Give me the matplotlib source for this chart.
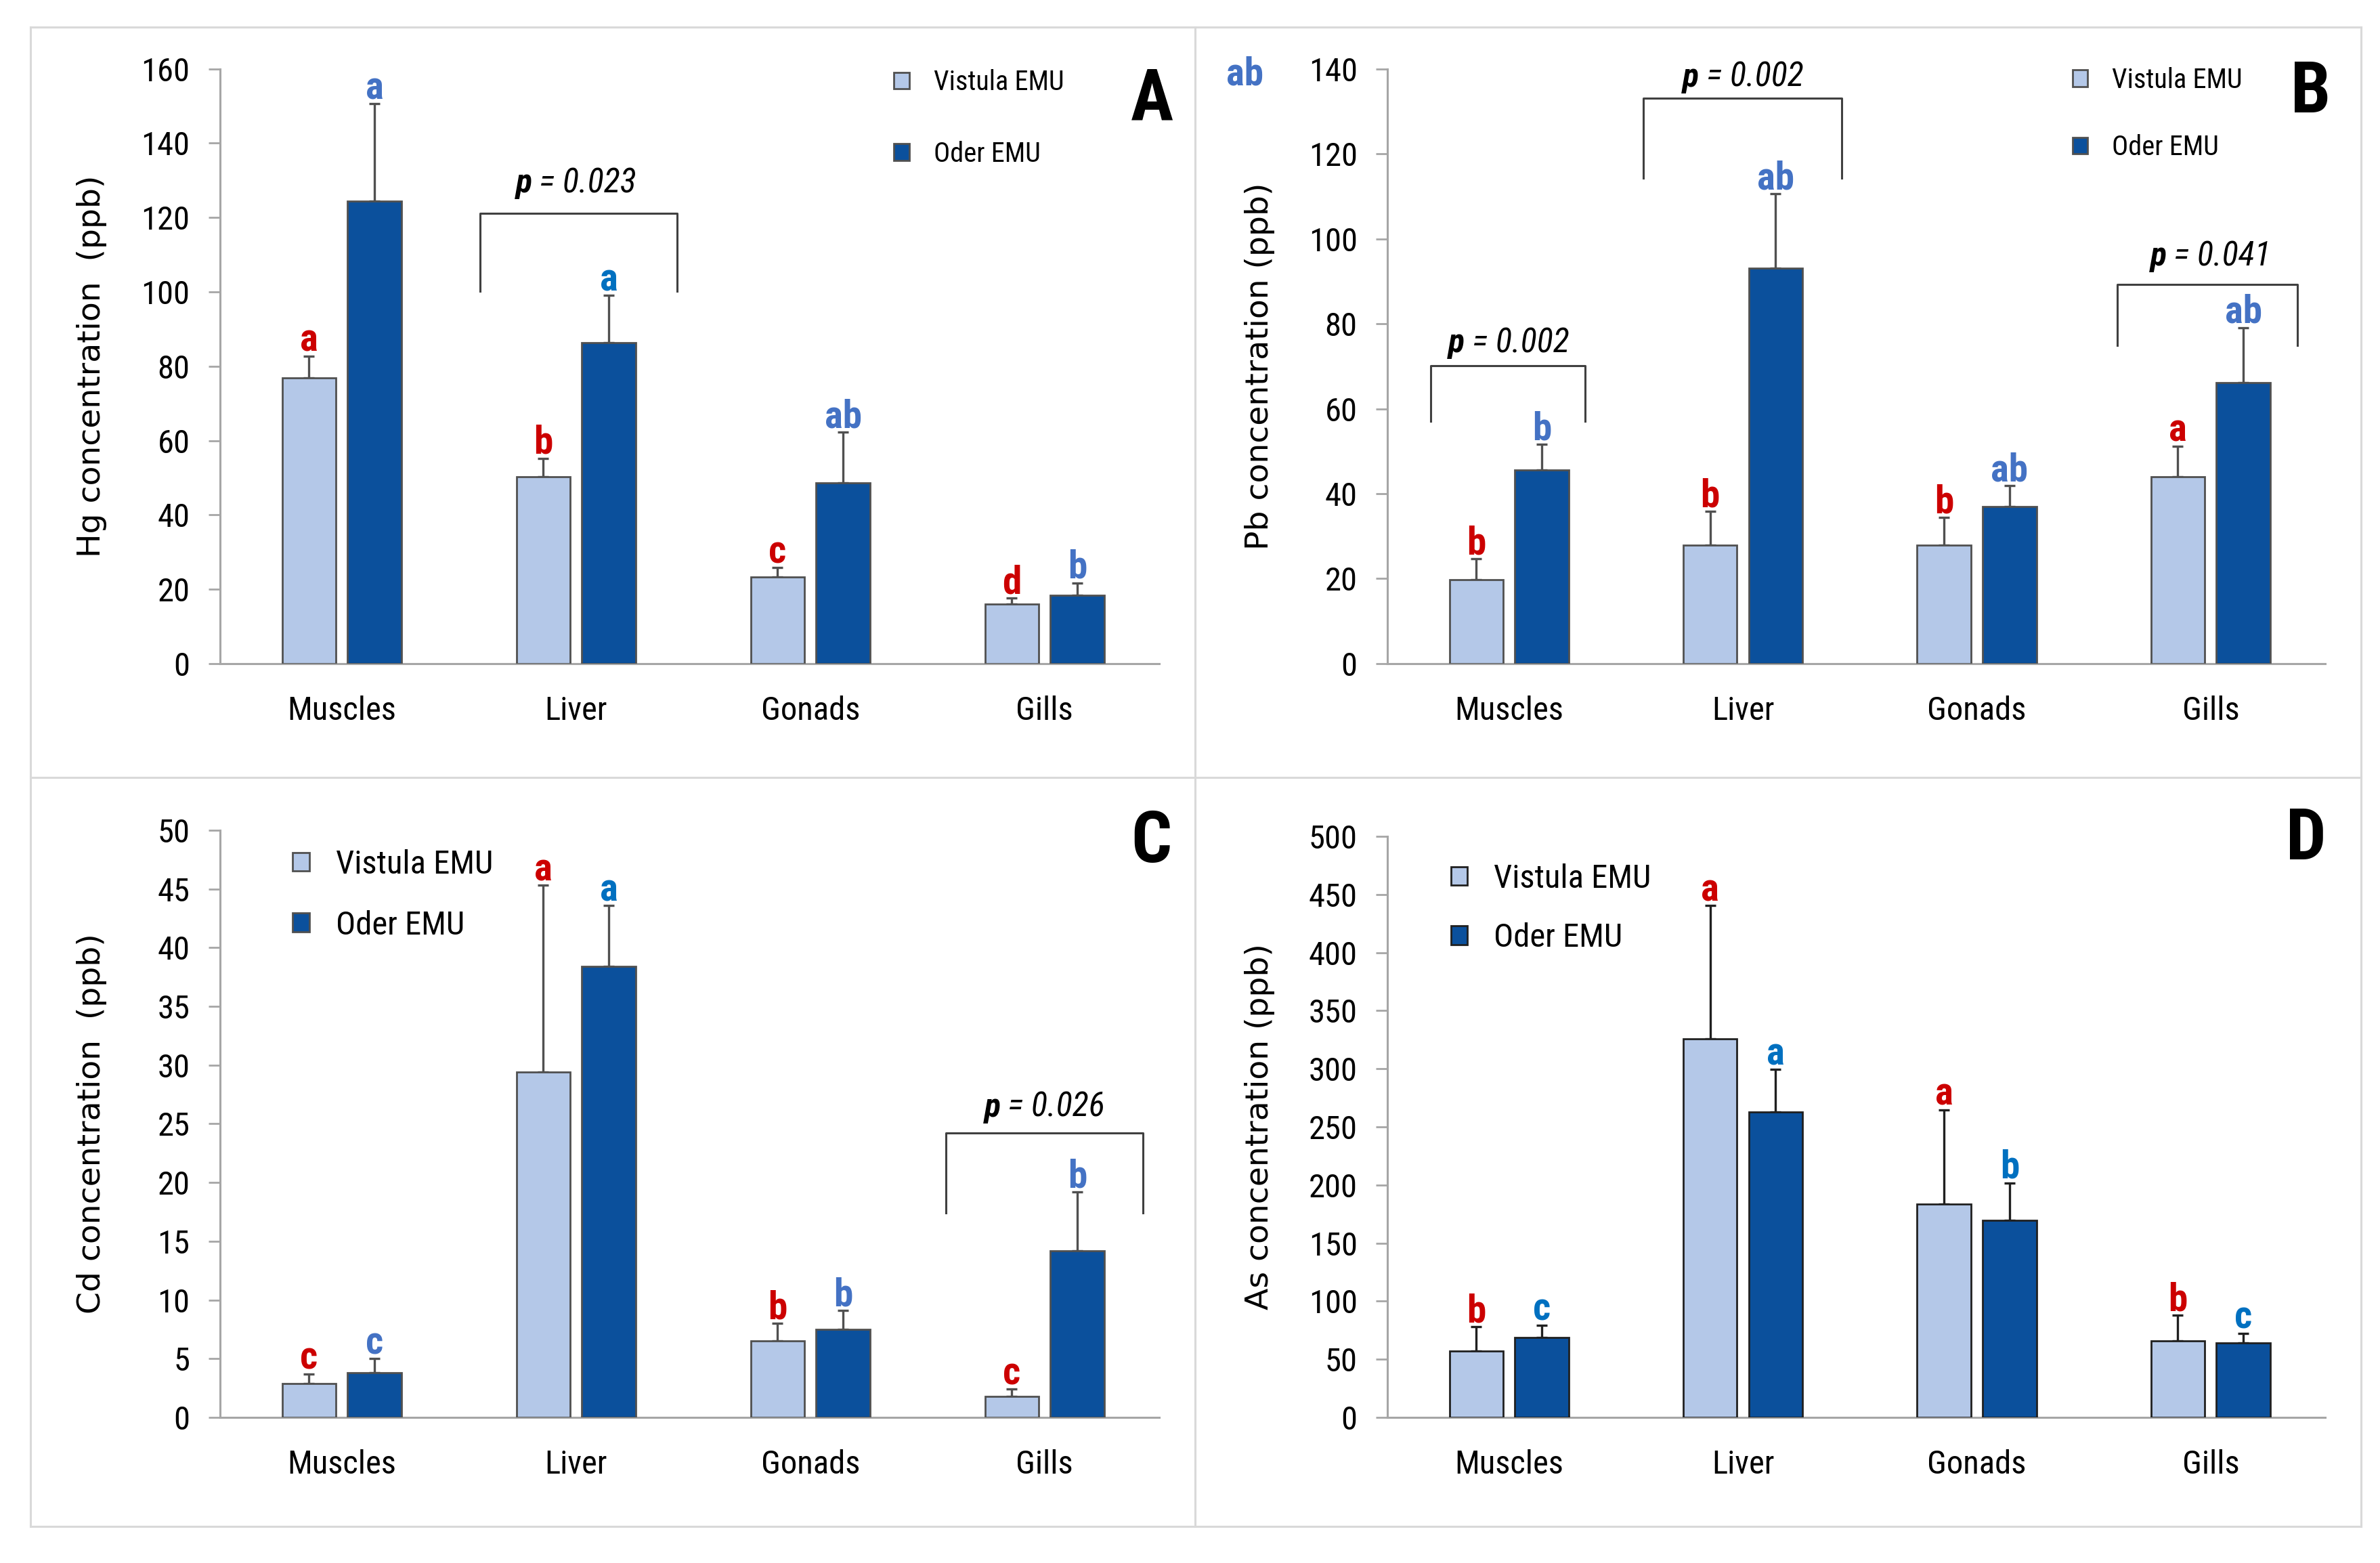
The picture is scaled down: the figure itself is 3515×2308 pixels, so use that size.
import matplotlib
matplotlib.use('Agg')
import matplotlib.pyplot as plt
from matplotlib import font_manager
from matplotlib.offsetbox import TextArea, HPacker, AnnotationBbox
from matplotlib.lines import Line2D
import numpy as np

# Dados
orgaos = ['Muscles', 'Liver', 'Gonads', 'Gills']
series = ['Vistula EMU', 'Oder EMU']

hg_vistula = [76.9, 50.3, 23.3, 16.0]
hg_vistula_err = [5.8, 4.9, 2.5, 1.6]
hg_oder = [124.4, 86.3, 48.7, 18.4]
hg_oder_err = [26.2, 12.7, 13.5, 3.3]
hg_letras_vistula = ['a', 'b', 'c', 'd']
hg_letras_oder = ['a', 'a', 'ab', 'b']

pb_vistula = [19.7, 27.9, 27.9, 44.0]
pb_vistula_err = [5.0, 7.9, 6.5, 7.2]
pb_oder = [45.5, 93.1, 36.9, 66.2]
pb_oder_err = [6.1, 17.5, 5.0, 12.9]
pb_letras_vistula = ['b', 'b', 'b', 'a']
pb_letras_oder = ['b', 'ab', 'ab', 'ab']

cd_vistula = [2.9, 29.4, 6.5, 1.8]
cd_vistula_err = [0.8, 15.9, 1.5, 0.6]
cd_oder = [3.8, 38.4, 7.5, 14.2]
cd_oder_err = [1.2, 5.2, 1.6, 5.0]
cd_letras_vistula = ['c', 'a', 'b', 'c']
cd_letras_oder = ['c', 'a', 'b', 'b']

as_vistula = [57.3, 325.5, 183.6, 66.0]
as_vistula_err = [20.7, 115.0, 81.2, 21.7]
as_oder = [69.0, 262.6, 169.3, 63.8]
as_oder_err = [10.4, 36.9, 32.5, 8.7]
as_letras_vistula = ['b', 'a', 'a', 'b']
as_letras_oder = ['c', 'a', 'b', 'c']

# Fontes
nomes = {f.name for f in font_manager.fontManager.ttflist}
fonte = 'Liberation Sans'
for cand in ['Liberation Sans Narrow', 'Roboto Condensed', 'Open Sans Condensed', 'Liberation Sans']:
    if cand in nomes:
        fonte = cand
        break
plt.rcParams['font.family'] = [fonte, 'DejaVu Sans']

COR_V = '#B4C8E8'
COR_O = '#0B509C'
VERMELHO = '#CC0000'
AZUL1 = '#4472C4'
AZUL2 = '#0070C0'
CINZA = '#A6A6A6'

TAM_TICK = 35
TAM_LETRA = 41
TAM_P = 36

fig = plt.figure(figsize=(35.16, 23.08), dpi=100)

# Moldura dos painéis
moldura = dict(color='#D9D9D9', lw=2.2, transform=fig.transFigure)
x0, x1, xm = 0.0128, 0.9917, 0.502
y0, y1, ym = 0.0234, 0.9827, 0.5026
for xs, ys in [([x0, x1], [y1, y1]), ([x0, x1], [y0, y0]), ([x0, x0], [y0, y1]),
               ([x1, x1], [y0, y1]), ([xm, xm], [y0, y1]), ([x0, x1], [ym, ym])]:
    fig.add_artist(Line2D(xs, ys, **moldura))


def rotulo_p(ax, x, y, valor):
    a = TextArea('p', textprops=dict(fontsize=TAM_P, fontstyle='italic', fontweight='bold', family=fonte))
    b = TextArea(' = ' + valor, textprops=dict(fontsize=TAM_P, fontstyle='italic', family=fonte))
    caixa = HPacker(children=[a, b], pad=0, sep=0, align='baseline')
    ab = AnnotationBbox(caixa, (x, y), xycoords='data', frameon=False,
                        box_alignment=(0.5, 0.5), annotation_clip=False)
    ax.add_artist(ab)


def colchete(ax, xc, esq, dir, topo, base, valor, ytexto):
    ax.plot([xc + esq, xc + esq, xc + dir, xc + dir], [base, topo, topo, base],
            color='#404040', lw=2.2, clip_on=False)
    rotulo_p(ax, xc, ytexto, valor)


def painel(rect, v, v_err, o, o_err, let_v, let_o, cores_o, ymax, passo, ylabel, edge):
    ax = fig.add_axes(rect)
    x = np.arange(len(orgaos))
    w = 0.23
    bv = ax.bar(x - 0.14, v, w, color=COR_V, edgecolor=edge, linewidth=2, label=series[0], zorder=3)
    bo = ax.bar(x + 0.14, o, w, color=COR_O, edgecolor=edge, linewidth=2, label=series[1], zorder=3)
    for xs, ys, es in [(x - 0.14, v, v_err), (x + 0.14, o, o_err)]:
        ax.errorbar(xs, ys, yerr=[np.zeros(len(es)), es], fmt='none', ecolor=edge,
                    elinewidth=2.4, capsize=6, capthick=2.4, zorder=2)
    for i in range(len(orgaos)):
        ax.annotate(let_v[i], (x[i] - 0.14, v[i] + v_err[i]), xytext=(0, 5), textcoords='offset points',
                    ha='center', va='baseline', fontsize=TAM_LETRA, fontweight='bold', color=VERMELHO)
        ax.annotate(let_o[i], (x[i] + 0.14, o[i] + o_err[i]), xytext=(0, 5), textcoords='offset points',
                    ha='center', va='baseline', fontsize=TAM_LETRA, fontweight='bold', color=cores_o[i])
    ax.set_xlim(-0.52, 3.49)
    ax.set_ylim(0, ymax)
    ax.set_yticks(np.arange(0, ymax + passo / 2, passo))
    ax.set_xticks(x)
    ax.set_xticklabels(orgaos)
    for s in ['top', 'right']:
        ax.spines[s].set_visible(False)
    for s in ['left', 'bottom']:
        ax.spines[s].set_color(CINZA)
        ax.spines[s].set_linewidth(2.2)
    ax.tick_params(axis='y', length=12, width=2, color=CINZA, labelsize=TAM_TICK, pad=20)
    ax.tick_params(axis='x', length=0, labelsize=TAM_TICK, pad=34)
    ax.set_ylabel(ylabel, family='DejaVu Sans', fontsize=34)
    ax.yaxis.set_label_coords(-0.12, 0.5)
    return ax, bv, bo


# Painel A - Hg
axA, bv, bo = painel([0.0924, 0.5754, 0.3946, 0.3806], hg_vistula, hg_vistula_err, hg_oder, hg_oder_err,
                     hg_letras_vistula, hg_letras_oder, [AZUL1, AZUL2, AZUL1, AZUL1],
                     160, 20, 'Hg concentration  (ppb)', '#505050')
axA.legend(handles=[bv, bo], frameon=False, loc='upper left', bbox_to_anchor=(0.703, 1.022),
           borderpad=0, handlelength=0.55, handleheight=0.55, handletextpad=0.9, labelspacing=1.65,
           prop={'family': fonte, 'size': 29})
colchete(axA, 1, -0.41, 0.43, 121.2, 100.1, '0.023', 129.2)

# Painel B - Pb
axB, bv, bo = painel([0.5828, 0.5754, 0.3939, 0.3806], pb_vistula, pb_vistula_err, pb_oder, pb_oder_err,
                     pb_letras_vistula, pb_letras_oder, [AZUL1] * 4,
                     140, 20, 'Pb concentration (ppb)', '#505050')
axB.legend(handles=[bv, bo], frameon=False, loc='upper left', bbox_to_anchor=(0.716, 1.026),
           borderpad=0, handlelength=0.55, handleheight=0.55, handletextpad=0.9, labelspacing=1.5,
           prop={'family': fonte, 'size': 29})
colchete(axB, 0, -0.335, 0.326, 70.2, 57.0, '0.002', 75.5)
colchete(axB, 1, -0.427, 0.423, 133.0, 114.2, '0.002', 138.0)
colchete(axB, 3, -0.40, 0.37, 89.3, 74.9, '0.041', 95.9)

# Painel C - Cd
axC, bv, bo = painel([0.0924, 0.0932, 0.3946, 0.3756], cd_vistula, cd_vistula_err, cd_oder, cd_oder_err,
                     cd_letras_vistula, cd_letras_oder, [AZUL1, AZUL2, AZUL1, AZUL1],
                     50, 5, 'Cd concentration  (ppb)', '#505050')
axC.legend(handles=[bv, bo], frameon=False, loc='upper left', bbox_to_anchor=(0.060, 0.996),
           borderpad=0, handlelength=0.5, handleheight=0.5, handletextpad=0.8, labelspacing=0.9,
           prop={'family': fonte, 'size': 35})
colchete(axC, 3, -0.42, 0.42, 24.2, 17.4, '0.026', 26.4)

# Painel D - As
axD, bv, bo = painel([0.5828, 0.0932, 0.3939, 0.3717], as_vistula, as_vistula_err, as_oder, as_oder_err,
                     as_letras_vistula, as_letras_oder, [AZUL2] * 4,
                     500, 50, 'As concentration (ppb)', '#202020')
axD.legend(handles=[bv, bo], frameon=False, loc='upper left', bbox_to_anchor=(0.050, 0.982),
           borderpad=0, handlelength=0.5, handleheight=0.5, handletextpad=0.8, labelspacing=0.85,
           prop={'family': fonte, 'size': 35})

# Letras dos painéis
for letra, px, py in [('A', 0.484, 0.936), ('B', 0.9707, 0.9405), ('C', 0.4835, 0.4606), ('D', 0.9687, 0.4627)]:
    fig.text(px, py, letra, fontsize=76, fontweight='bold', ha='center', va='center')

# "ab" solto no canto do painel B
fig.text(0.5228, 0.9523, 'ab', fontsize=TAM_LETRA, fontweight='bold', color=AZUL1, ha='center', va='center')

fig.savefig('out.png', dpi=100, facecolor='white')
